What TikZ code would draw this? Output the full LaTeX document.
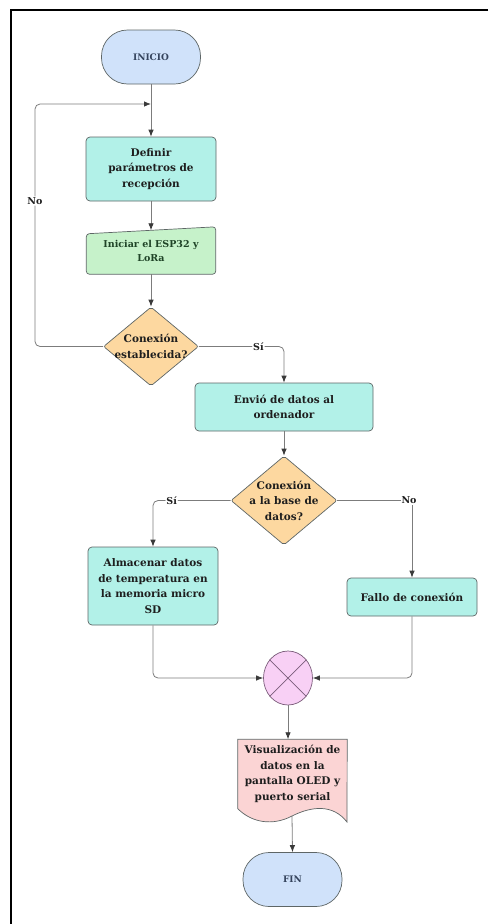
\documentclass[tikz,border=0pt]{standalone}
\usepackage{fontspec}
\setmainfont{DejaVu Serif}
\usetikzlibrary{arrows.meta,shapes.geometric,backgrounds}

\definecolor{lineGray}{HTML}{7C7C7C}
\definecolor{tipGray}{HTML}{3A3A3A}
\definecolor{edgeGray}{HTML}{5E6666}
\definecolor{termFill}{HTML}{D0E2FA}
\definecolor{termText}{HTML}{34435C}
\definecolor{procFill}{HTML}{B2F1E8}
\definecolor{inputFill}{HTML}{C6F2CA}
\definecolor{inputText}{HTML}{1F4427}
\definecolor{decFill}{HTML}{FDD8A0}
\definecolor{mixFill}{HTML}{F8D0F5}
\definecolor{mixEdge}{HTML}{7A5C7A}
\definecolor{docFill}{HTML}{FBD4D4}
\definecolor{bodyText}{HTML}{1E1E1E}

\tikzset{
  txt/.style={font=\fontsize{10.5}{15.5}\selectfont\bfseries, text=bodyText, align=center},
  terminal/.style={draw=edgeGray, fill=termFill, line width=0.7pt, rounded corners=26pt,
    minimum width=99pt, minimum height=54pt, inner sep=0pt,
    font=\fontsize{9}{11}\selectfont\bfseries, text=termText},
  process/.style={txt, draw=edgeGray, fill=procFill, line width=0.7pt, rounded corners=4pt, inner sep=0pt},
  ghost/.style={inner sep=0pt},
  decision/.style={diamond, draw=edgeGray, fill=decFill, line width=0.7pt, inner sep=0pt, rounded corners=2pt},
  conn/.style={draw=lineGray, line width=0.8pt, -{Latex[length=7pt,width=5.5pt,color=tipGray]}},
  flag/.style={font=\fontsize{9.5}{11}\selectfont\bfseries, text=bodyText, fill=white, inner sep=1pt}
}

\begin{document}
\begin{tikzpicture}[x=1pt,y=-1pt]
\useasboundingbox (0,0) rectangle (488,924);

% frame
\draw[line width=1.6pt, black] (488,10) -- (11,10) -- (11,924);

% nodes
\node[terminal] (ini) at (151,57) {INICIO};
\node[process, minimum width=130pt, minimum height=64pt] (def) at (151,169) {Definir\\par\'ametros de\\recepci\'on};
\node[ghost, txt, minimum width=129pt, minimum height=47pt, text=inputText,
      font=\fontsize{9.5}{14}\selectfont\bfseries] (esp) at (151,250.5) {Iniciar el ESP32 y\\LoRa};
\node[decision, minimum width=95pt, minimum height=79pt] (d1) at (151,346.5) {};
\node[txt] (d1t) at (d1) {Conexi\'on\\establecida?};
\node[process, minimum width=178pt, minimum height=48pt] (env) at (284,407) {Envi\'o de datos al\\ordenador};
\node[decision, minimum width=106pt, minimum height=89pt] (d2) at (284,500.5) {};
\node[txt] (d2t) at (d2) {Conexi\'on\\a la base de\\datos?};
\node[process, minimum width=130pt, minimum height=78pt] (alm) at (153,586) {Almacenar datos\\de temperatura en\\la memoria micro\\SD};
\node[process, minimum width=130pt, minimum height=38pt] (fal) at (412,597) {Fallo de conexi\'on};
\node[ellipse, draw=mixEdge, fill=mixFill, line width=0.7pt, minimum width=49pt, minimum height=54pt, inner sep=0pt] (mix) at (288,678) {};
\node[ghost, txt, minimum width=109pt, minimum height=69pt] (vis) at (292.5,774) {Visualizaci\'on de\\datos en la\\pantalla OLED y\\puerto serial};
\node[terminal] (fin) at (292.5,879.5) {FIN};

% shapes drawn behind their texts
\begin{scope}[on background layer]
  \filldraw[draw=edgeGray, fill=inputFill, line width=0.7pt, rounded corners=3pt]
    (esp.south west) -- ([yshift=-7pt]esp.north west) -- (esp.north east) -- (esp.south east) -- cycle;
  \filldraw[draw=edgeGray, fill=docFill, line width=0.7pt]
    (vis.south west) -- (vis.north west) -- (vis.north east) -- (347,822)
    .. controls (333,804) and (312,806) .. (292,816)
    .. controls (273,826) and (252,823) .. (vis.south west) -- cycle;
\end{scope}

% cross inside the junction
\draw[draw=mixEdge, line width=0.7pt] (mix.135) -- (mix.-45) (mix.45) -- (mix.-135);

% connector points
\coordinate (jn) at (151,104);
\coordinate (lp) at (35,104);
\coordinate (visb) at (292,816);

% connectors
\draw[conn] (ini) -- (def);
\draw[conn, rounded corners=5pt] (d1.west) -| node[flag, pos=0.8] {No} (lp) -- (jn);
\draw[conn] (def) -- ([yshift=-3.5pt]esp.north);
\draw[conn] (esp) -- (d1.north);
\draw[conn, rounded corners=5pt] (d1.east) -| node[flag, pos=0.35] {S\'i} (env.north);
\draw[conn] (env) -- (d2.north);
\draw[conn, rounded corners=5pt] (d2.west) -| node[flag, pos=0.38] {S\'i} (alm.north);
\draw[conn] (d2.east) -| node[flag, pos=0.48] {No} (fal.north);
\draw[conn, rounded corners=5pt] (alm.south) |- (mix.west);
\draw[conn, rounded corners=5pt] (fal.south) |- (mix.east);
\draw[conn] (mix.south) -- (mix.south |- vis.north);
\draw[conn] (visb) -- (fin.north);
\end{tikzpicture}
\end{document}
